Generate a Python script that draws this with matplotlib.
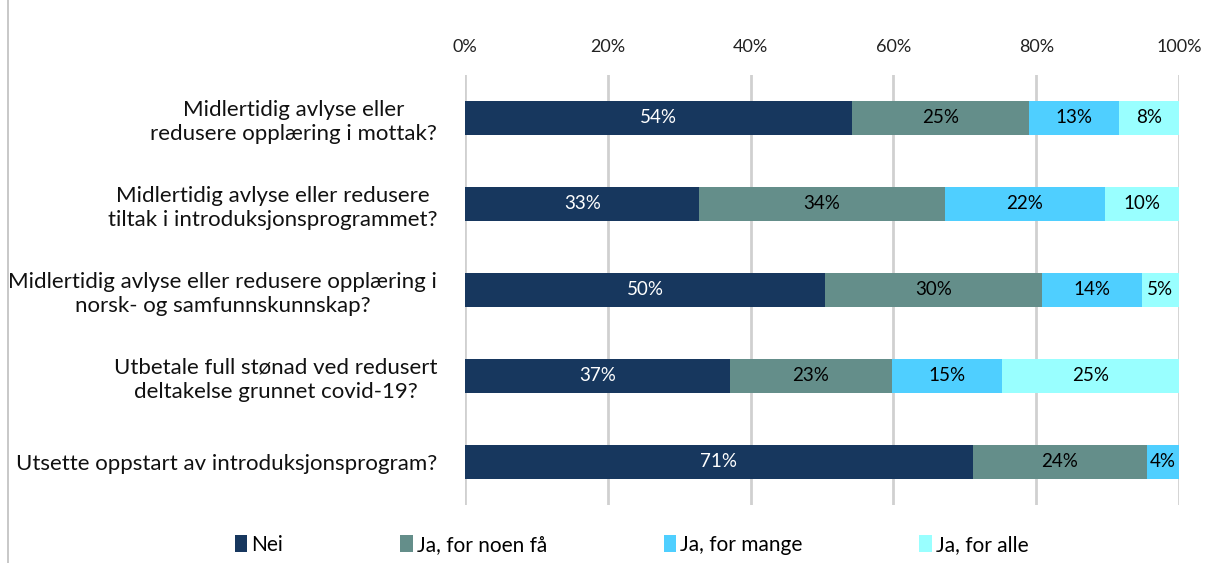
import matplotlib.pyplot as plt
from matplotlib.patches import Patch
from matplotlib.lines import Line2D

plt.rcParams['font.family'] = ['Lato', 'DejaVu Sans']

categories = [
    "Midlertidig avlyse eller\nredusere opplæring i mottak?",
    "Midlertidig avlyse eller redusere\ntiltak i introduksjonsprogrammet?",
    "Midlertidig avlyse eller redusere opplæring i\nnorsk- og samfunnskunnskap?",
    "Utbetale full stønad ved redusert\ndeltakelse grunnet covid-19?",
    "Utsette oppstart av introduksjonsprogram?",
]
series = ["Nei", "Ja, for noen få", "Ja, for mange", "Ja, for alle"]
nei = [54.2, 32.8, 50.4, 37.1, 71.1]
noen_fa = [24.8, 34.4, 30.4, 22.7, 24.4]
mange = [12.6, 22.4, 14.0, 15.4, 4.5]
alle = [8.4, 10.4, 5.2, 24.8, 0.0]
ticks = [0, 20, 40, 60, 80, 100]

colors = ["#17375E", "#648E8A", "#4FCFFF", "#99FFFF"]
text_colors = ["white", "black", "black", "black"]

fig = plt.figure(figsize=(12.08, 5.63), dpi=100)
ax = fig.add_axes([0.385, 0.103, 0.591, 0.764])

ys = list(range(len(categories)))
left = [0.0] * len(categories)
for vals, col, tcol in zip([nei, noen_fa, mange, alle], colors, text_colors):
    ax.barh(ys, vals, left=left, color=col, height=0.39, zorder=3)
    for y, v, l in zip(ys, vals, left):
        if v > 0.5:
            ax.text(l + v / 2, y, f"{round(v):.0f}%", ha="center", va="center",
                    color=tcol, fontsize=13.5, zorder=4)
    left = [a + b for a, b in zip(left, vals)]

ax.set_xlim(0, 100)
ax.set_ylim(len(categories) - 0.5, -0.5)
ax.set_xticks(ticks)
ax.set_xticklabels([f"{t}%" for t in ticks], fontsize=13, color="#222222")
ax.xaxis.tick_top()
ax.tick_params(axis="x", length=0, pad=14)
ax.set_yticks(ys)
ax.set_yticklabels(categories, fontsize=16, multialignment="center", color="#111111",
                   linespacing=1.25)
ax.tick_params(axis="y", length=0, pad=20)
ax.grid(axis="x", color="#D0D0D0", linewidth=2, zorder=0)
for s in ax.spines.values():
    s.set_visible(False)

# outer frame line at the left
fig.add_artist(Line2D([0.007, 0.007], [0, 1], color="#BFBFBF", linewidth=1.2,
                      transform=fig.transFigure))

handles = [Patch(facecolor=c, edgecolor="none") for c in colors]
fig.legend(handles, series, loc="center", bbox_to_anchor=(0.523, 0.032), ncol=4,
           frameon=False, fontsize=15, handlelength=0.6, handleheight=0.9,
           handletextpad=0.2, columnspacing=5.6)

fig.savefig("out.png", dpi=100)
